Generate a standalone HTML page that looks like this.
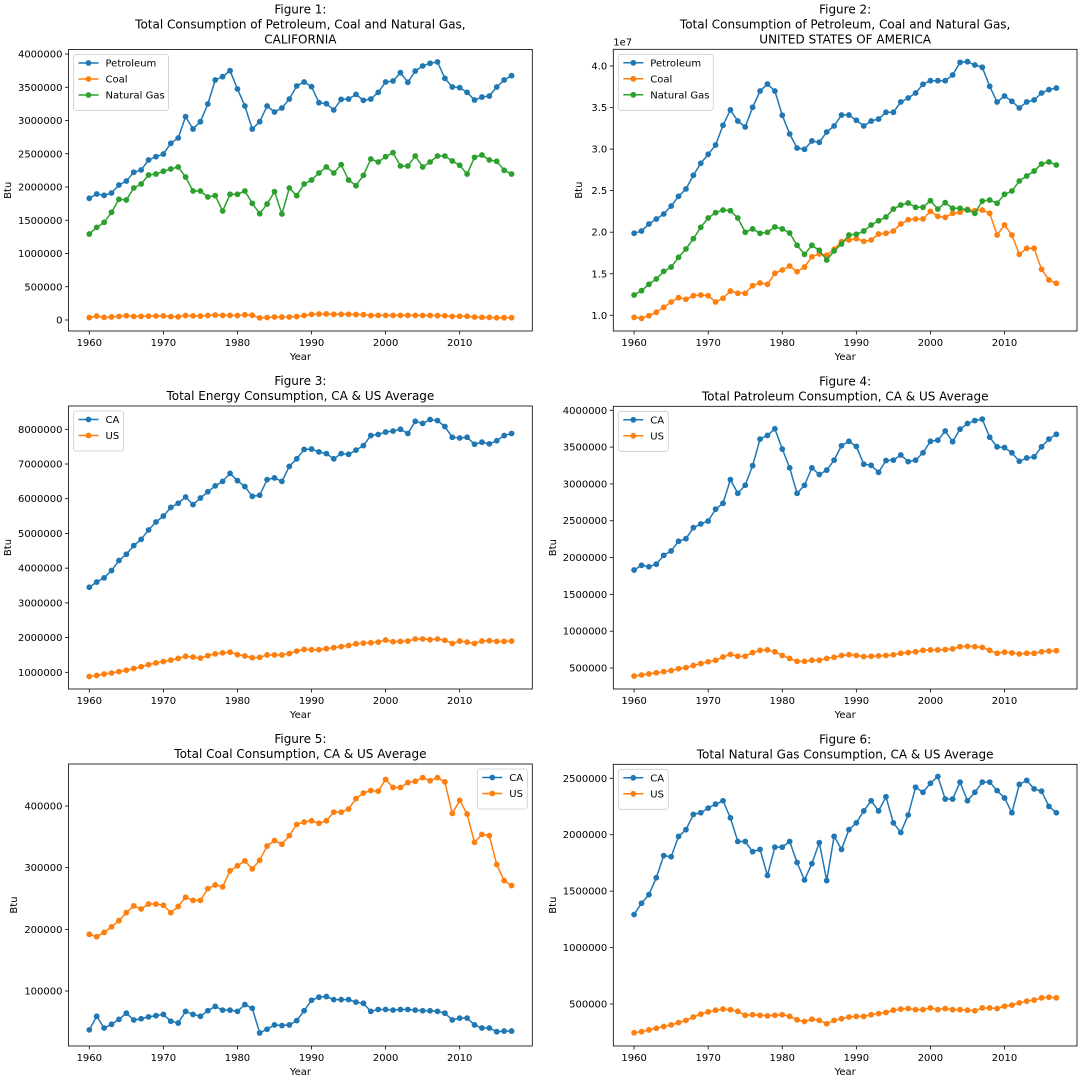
<!DOCTYPE html>
<html><head><meta charset="utf-8">
<style>
html,body{margin:0;padding:0;background:#fff;}
svg{display:block;font-family:"DejaVu Sans","Liberation Sans",sans-serif;}
</style></head>
<body>
<svg id="fig" width="1080" height="1080" viewBox="0 0 1080 1080" xmlns="http://www.w3.org/2000/svg"></svg>
<script>
const years = []; for (let y = 1960; y <= 2017; y++) years.push(y);
const xTicks = [1960, 1970, 1980, 1990, 2000, 2010];

// Figure 1 (CA, millions Btu scaled)
const caPetroleum = [1.830,1.895,1.875,1.910,2.030,2.090,2.221,2.256,2.406,2.456,2.496,2.657,2.737,3.058,2.872,2.982,3.248,3.609,3.659,3.749,3.474,3.218,2.872,2.982,3.218,3.128,3.188,3.323,3.519,3.579,3.509,3.268,3.253,3.158,3.318,3.323,3.393,3.303,3.323,3.423,3.579,3.594,3.719,3.574,3.744,3.820,3.860,3.880,3.634,3.504,3.494,3.423,3.308,3.353,3.368,3.504,3.609,3.674];
const caGas = [1.293,1.393,1.469,1.619,1.815,1.805,1.985,2.045,2.180,2.195,2.236,2.271,2.301,2.150,1.940,1.940,1.850,1.870,1.639,1.890,1.890,1.940,1.754,1.599,1.744,1.930,1.594,1.985,1.870,2.045,2.105,2.211,2.301,2.211,2.336,2.105,2.020,2.175,2.421,2.376,2.456,2.516,2.316,2.316,2.466,2.301,2.376,2.466,2.466,2.391,2.326,2.195,2.446,2.481,2.406,2.386,2.251,2.195];
const caCoal = [37,59,40,46,54,64,53,55,58,60,62,51,48,67,62,59,68,75,69,69,67,78,72,32,38,45,44,45,52,68,85,90,91,86,86,86,82,80,67,70,70,69,70,70,69,68,68,67,64,53,56,56,45,40,40,34,35,35];
// Figure 2 (US totals, 1e7 Btu)
const usPetroleum = [1.987,2.014,2.099,2.159,2.219,2.315,2.432,2.520,2.685,2.829,2.937,3.049,3.286,3.471,3.338,3.266,3.503,3.699,3.783,3.699,3.407,3.182,3.013,2.998,3.098,3.082,3.206,3.278,3.410,3.410,3.347,3.278,3.338,3.362,3.443,3.443,3.567,3.615,3.675,3.780,3.823,3.823,3.823,3.892,4.044,4.052,4.012,3.984,3.756,3.567,3.639,3.575,3.495,3.567,3.591,3.675,3.715,3.735];
const usCoal = [0.976,0.964,0.995,1.036,1.096,1.160,1.212,1.193,1.236,1.244,1.236,1.160,1.205,1.292,1.265,1.265,1.356,1.389,1.373,1.505,1.545,1.593,1.525,1.581,1.705,1.738,1.722,1.794,1.886,1.906,1.922,1.890,1.906,1.978,1.987,2.014,2.099,2.150,2.159,2.159,2.251,2.191,2.179,2.227,2.239,2.276,2.259,2.267,2.227,1.966,2.087,1.966,1.734,1.806,1.806,1.553,1.425,1.385];
const usGas = [1.244,1.296,1.373,1.437,1.529,1.581,1.698,1.798,1.922,2.059,2.171,2.235,2.267,2.259,2.171,1.999,2.039,1.987,1.999,2.063,2.039,1.990,1.842,1.734,1.842,1.782,1.665,1.774,1.858,1.966,1.975,2.014,2.087,2.138,2.183,2.279,2.327,2.351,2.300,2.300,2.379,2.279,2.355,2.288,2.288,2.267,2.227,2.375,2.387,2.348,2.456,2.496,2.616,2.676,2.736,2.821,2.845,2.809];
// Figure 3 (millions)
const caTotal = [3.45,3.60,3.72,3.93,4.22,4.40,4.65,4.83,5.10,5.33,5.50,5.75,5.87,6.05,5.83,6.02,6.20,6.37,6.50,6.73,6.52,6.35,6.07,6.10,6.55,6.60,6.50,6.93,7.15,7.42,7.43,7.35,7.30,7.15,7.30,7.28,7.40,7.53,7.82,7.85,7.92,7.95,8.00,7.88,8.23,8.17,8.28,8.25,8.08,7.77,7.75,7.77,7.57,7.63,7.58,7.67,7.82,7.88];
const usAvgTotal = [0.88,0.91,0.95,0.98,1.02,1.06,1.11,1.16,1.22,1.27,1.31,1.35,1.40,1.46,1.44,1.41,1.48,1.53,1.56,1.58,1.51,1.47,1.42,1.43,1.50,1.50,1.50,1.54,1.61,1.66,1.65,1.65,1.68,1.71,1.74,1.77,1.82,1.84,1.85,1.87,1.93,1.88,1.89,1.90,1.96,1.96,1.94,1.96,1.92,1.83,1.90,1.87,1.83,1.90,1.91,1.89,1.89,1.90];
// Figure 4 (thousands)
const usAvgPetroleum = [390,405,420,435,450,465,490,505,535,560,585,605,650,685,660,660,710,740,745,720,670,630,590,590,605,605,630,645,670,680,670,655,660,665,670,680,700,710,720,740,745,745,750,760,790,795,790,780,740,700,715,705,690,700,700,720,730,735];
// Figure 5 (thousands)
const usAvgCoal = [192,188,195,204,214,227,238,233,241,241,239,227,237,252,247,247,266,272,269,295,303,311,298,312,335,344,338,352,370,374,376,372,376,390,390,395,412,421,425,424,443,430,430,438,440,446,441,446,439,388,409,387,341,354,352,305,279,271];
// Figure 6 (thousands)
const usAvgGas = [245,255,270,285,300,315,335,355,385,410,430,445,455,450,435,400,405,400,395,400,405,390,360,345,365,355,325,355,370,385,390,390,405,415,425,445,455,460,450,450,465,450,460,450,450,445,440,465,465,460,480,490,510,525,535,555,560,555];

const C1 = "#1f77b4", C2 = "#ff7f0e", C3 = "#2ca02c";
const NS = "http://www.w3.org/2000/svg";
const svg = document.getElementById("fig");
function el(tag, attrs, parent) {
  const e = document.createElementNS(NS, tag);
  for (const k in attrs) e.setAttribute(k, attrs[k]);
  (parent || svg).appendChild(e);
  return e;
}
function txt(s, attrs, parent) { const t = el("text", attrs, parent); t.textContent = s; return t; }

function plot(cfg) {
  const g = el("g", {});
  
  
  const L = cfg.box[0], R = cfg.box[1], T = cfg.box[2], B = cfg.box[3];
  const xs = yr => L + 20.8 + (yr - 1960) * 7.408;
  const ys = v => cfg.p0 + (v - cfg.v0) * (cfg.p1 - cfg.p0) / (cfg.v1 - cfg.v0);
  // title
  const cx = (L + R) / 2;
  cfg.title.forEach((s, i) => {
    const t = txt(s, {x: cx, y: T - 6 - (cfg.title.length - 1 - i) * 15, "text-anchor": "middle", "font-size": 12, fill: "#000"}, g);
    
    
  });
  // ticks x
  xTicks.forEach(yr => {
    const x = xs(yr);
    el("line", {x1: x, x2: x, y1: B, y2: B + 3.5, stroke: "#000", "stroke-width": 0.8}, g);
    const t = txt(String(yr), {x: x, y: B + 15, "text-anchor": "middle", "font-size": 10}, g);
    
    
  });
  // ticks y
  cfg.yTicks.forEach(v => {
    const y = ys(v);
    el("line", {x1: L - 3.5, x2: L, y1: y, y2: y, stroke: "#000", "stroke-width": 0.8}, g);
    const t = txt(cfg.fmt(v), {x: L - 6, y: y + 3.5, "text-anchor": "end", "font-size": 10}, g);
    
    
  });
  if (cfg.offset) txt(cfg.offset, {x: L, y: T - 4, "font-size": 10}, g);
  const xl = txt("Year", {x: cx, y: B + 29, "text-anchor": "middle", "font-size": 10}, g);
  
  
  const yl = txt("Btu", {x: 0, y: 0, "text-anchor": "middle", "font-size": 10, transform: `translate(${cfg.ylx},${(T + B) / 2}) rotate(-90)`}, g);
  
  
  // series
  cfg.series.forEach(s => {
    const sg = el("g", {}, g);
    
    
    const pts = s.data.map((v, i) => xs(years[i]).toFixed(2) + "," + ys(v).toFixed(2)).join(" ");
    el("polyline", {points: pts, fill: "none", stroke: s.color, "stroke-width": 1.5, "stroke-linejoin": "round"}, sg);
    s.data.forEach((v, i) => {
      const c = el("circle", {cx: xs(years[i]), cy: ys(v), r: 2.9, fill: s.color}, sg);
      
      
    });
  });
  // frame
  el("rect", {x: L, y: T, width: R - L, height: B - T, fill: "none", stroke: "#000", "stroke-width": 0.8}, g);
  // legend
  const n = cfg.series.length;
  const lw = cfg.legendW, lh = 8 + n * 16;
  const lx = cfg.legendRight ? R - 5 - lw : L + 5, ly = T + 5;
  const lg = el("g", {}, g);
  
  
  el("rect", {x: lx, y: ly, width: lw, height: lh, rx: 2.5, fill: "#fff", "fill-opacity": 0.8, stroke: "#ccc", "stroke-width": 0.8}, lg);
  cfg.series.forEach((s, i) => {
    const yy = ly + 8.5 + i * 16;
    const eg = el("g", {}, lg);
    
    
    el("line", {x1: lx + 5, x2: lx + 25, y1: yy, y2: yy, stroke: s.color, "stroke-width": 1.5}, eg);
    el("circle", {cx: lx + 15, cy: yy, r: 2.9, fill: s.color}, eg);
    txt(s.label, {x: lx + 32, y: yy + 3.5, "font-size": 10}, eg);
  });
}
function rng(a, b, s) { const r = []; for (let v = a; v <= b + 1e-9; v += s) r.push(+v.toFixed(6)); return r; }
const intFmt = v => String(Math.round(v));
const LB = [68.5, 532.3], RB = [613.3, 1077];

plot({name: "figure-1", box: [LB[0], LB[1], 49.5, 331], p0: 320, v0: 0, p1: 54, v1: 4e6,
  yTicks: rng(0, 4e6, 5e5), fmt: intFmt, ylx: 11, legendW: 95,
  title: ["Figure 1:", "Total Consumption of Petroleum, Coal and Natural Gas,", "CALIFORNIA"],
  series: [{label: "Petroleum", color: C1, data: caPetroleum.map(v => v * 1e6)},
           {label: "Coal", color: C2, data: caCoal.map(v => v * 1e3)},
           {label: "Natural Gas", color: C3, data: caGas.map(v => v * 1e6)}]});
plot({name: "figure-2", box: [RB[0], RB[1], 49.3, 331], p0: 315.3, v0: 1.0, p1: 66, v1: 4.0,
  yTicks: rng(1, 4, 0.5), fmt: v => v.toFixed(1), ylx: 582, legendW: 95, offset: "1e7",
  title: ["Figure 2:", "Total Consumption of Petroleum, Coal and Natural Gas,", "UNITED STATES OF AMERICA"],
  series: [{label: "Petroleum", color: C1, data: usPetroleum},
           {label: "Coal", color: C2, data: usCoal},
           {label: "Natural Gas", color: C3, data: usGas}]});
plot({name: "figure-3", box: [LB[0], LB[1], 406, 689], p0: 672.3, v0: 1e6, p1: 429.3, v1: 8e6,
  yTicks: rng(1e6, 8e6, 1e6), fmt: intFmt, ylx: 11, legendW: 50,
  title: ["Figure 3:", "Total Energy Consumption, CA & US Average"],
  series: [{label: "CA", color: C1, data: caTotal.map(v => v * 1e6)},
           {label: "US", color: C2, data: usAvgTotal.map(v => v * 1e6)}]});
plot({name: "figure-4", box: [RB[0], RB[1], 406.3, 689], p0: 668, v0: 5e5, p1: 410.3, v1: 4e6,
  yTicks: rng(5e5, 4e6, 5e5), fmt: intFmt, ylx: 556, legendW: 50,
  title: ["Figure 4:", "Total Patroleum Consumption, CA & US Average"],
  series: [{label: "CA", color: C1, data: caPetroleum.map(v => v * 1e6)},
           {label: "US", color: C2, data: usAvgPetroleum.map(v => v * 1e3)}]});
plot({name: "figure-5", box: [LB[0], LB[1], 764, 1046], p0: 991, v0: 1e5, p1: 806, v1: 4e5,
  yTicks: rng(1e5, 4e5, 1e5), fmt: intFmt, ylx: 17, legendW: 50, legendRight: true,
  title: ["Figure 5:", "Total Coal Consumption, CA & US Average"],
  series: [{label: "CA", color: C1, data: caCoal.map(v => v * 1e3)},
           {label: "US", color: C2, data: usAvgCoal.map(v => v * 1e3)}]});
plot({name: "figure-6", box: [RB[0], RB[1], 764.3, 1046], p0: 1004, v0: 5e5, p1: 778.3, v1: 2.5e6,
  yTicks: rng(5e5, 2.5e6, 5e5), fmt: intFmt, ylx: 556, legendW: 50,
  title: ["Figure 6:", "Total Natural Gas Consumption, CA & US Average"],
  series: [{label: "CA", color: C1, data: caGas.map(v => v * 1e6)},
           {label: "US", color: C2, data: usAvgGas.map(v => v * 1e3)}]});
</script>
</body></html>
